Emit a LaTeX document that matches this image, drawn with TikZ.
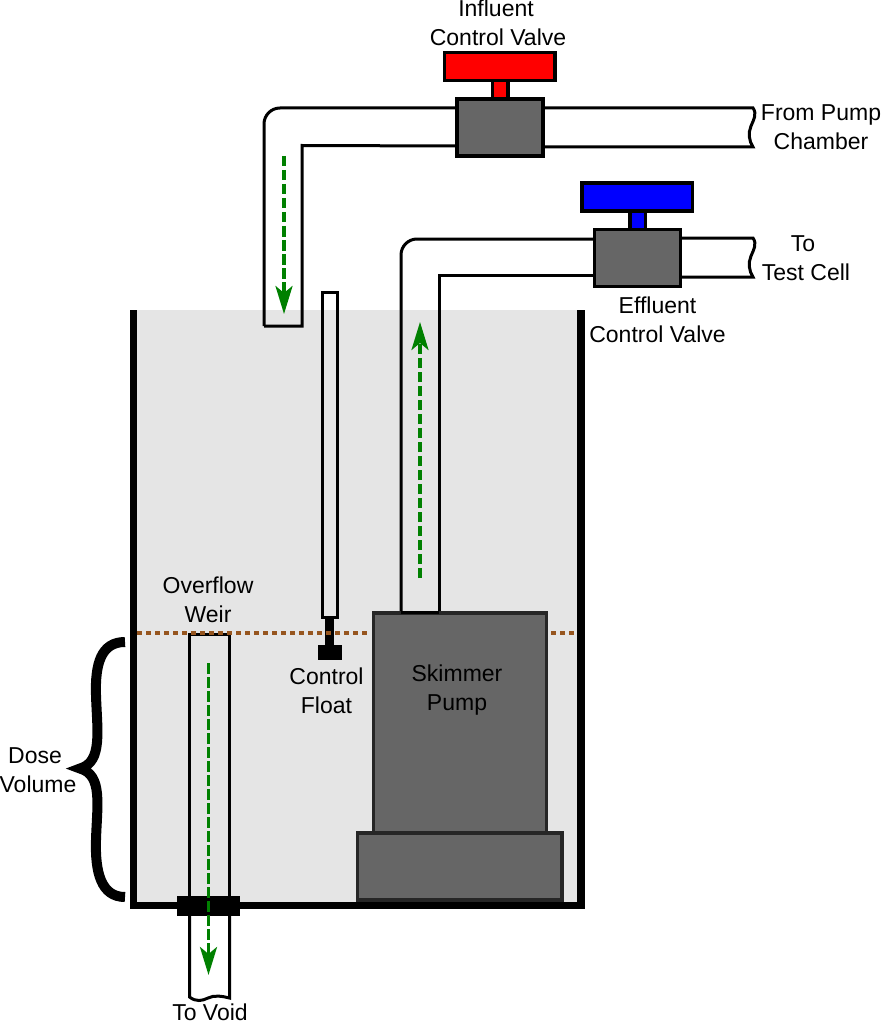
\documentclass[tikz,border=0pt]{standalone}
\usepackage{fontspec}
\setmainfont{Liberation Sans}
\usetikzlibrary{arrows.meta,calc,positioning}
\definecolor{waterg}{RGB}{229,229,229}
\definecolor{bodygrey}{RGB}{102,102,102}
\definecolor{levelbrown}{RGB}{150,85,30}
\definecolor{flowgreen}{RGB}{0,128,0}
\tikzset{
  pipe/.style={black,line width=3pt},
  wall/.style={black,line width=7.5pt},
  body/.style={draw=black,line width=3.5pt,fill=bodygrey,inner sep=0pt},
  pumpbody/.style={draw=black!85,line width=3.5pt,fill=bodygrey,inner sep=0pt},
  flow/.style={draw=flowgreen,line width=3.5pt,dash pattern=on 10.5pt off 3.5pt,
               -{Stealth[length=28pt,width=17pt,inset=7pt,fill=flowgreen]}},
  lab/.style={font=\fontsize{23}{29}\selectfont,align=center,text=black,inner sep=0pt},
  level/.style={draw=levelbrown,line width=4pt,dash pattern=on 4.5pt off 4.5pt},
}
\begin{document}
\begin{tikzpicture}[x=1pt,y=-1pt]
  \path[use as bounding box] (0,0) rectangle (880,1024);
  % tank
  \fill[waterg] (133,310) rectangle (581,905);
  \draw[wall,miter limit=10] (133.5,310) -- (133.5,905.5) -- (581,905.5) -- (581,310);

  % pipes
  \draw[pipe,rounded corners=16pt] (264,326) -- (264,108) -- (457,108);
  \draw[pipe] (264,326) -- (302,326) -- (302,145.5) -- (457,146);
  \draw[pipe] (543,108) -- (753,108) .. controls (757,114) and (754,119) .. (751,126)
    .. controls (748,133) and (749,141) .. (753,147) -- (543,147);
  \draw[pipe,rounded corners=16pt] (401,612) -- (401,239) -- (596,239);
  \draw[pipe] (439,612) -- (439,275.5) -- (596,275.5);
  \draw[pipe] (681,238) -- (753,238) .. controls (757,244) and (754,249) .. (751,256)
    .. controls (748,263) and (749,271) .. (753,277) -- (681,277);

  % valves
  \foreach \x/\y/\col/\nm in {500/127.5/red/influent,637.7/257.8/blue/effluent}{
    \node[body,fill=\col,minimum width=15.5pt,minimum height=24pt] (\nm stem) at (\x,\y-38) {};
    \node[body,fill=\col,minimum width=110.5pt,minimum height=28pt] (\nm handle) at (\x-0.5,\y-61) {};
    \node[body,minimum width=86pt,minimum height=57pt] (\nm body) at (\x,\y) {};
  }

  % float
  \draw[pipe] (322,292) rectangle (337,617);
  \fill[black] (325,617) rectangle (334,650);
  \fill[black] (318,645) rectangle (342,660);

  % weir
  \draw[pipe,fill=white] (189.5,910) -- (189.5,997) .. controls (196,1002) and (202,1001) .. (208,998)
    .. controls (214,995) and (222,996) .. (229.5,998) -- (229.5,910);
  \draw[pipe] (189.5,900) -- (189.5,634) -- (229.5,634) -- (229.5,900);
  \fill[black] (177,896) rectangle (240,916);

  % pump
  \node[pumpbody,minimum width=173pt,minimum height=220pt] (pump) at (460,723) {};
  \node[pumpbody,minimum width=204.5pt,minimum height=67pt] (pumpbase) at (459.7,866.5) {};
  \draw[pipe] (401,612.5) -- (439,612.5);

  % water level
  \draw[level] (137,633) -- (371,633);
  \draw[level] (551,633) -- (578,633);

  % flow arrows
  \draw[flow] (284,156) -- (284,314);
  \draw[flow] (420,578) -- (420,322);
  \draw[flow] (208.5,663) -- (208.5,975);

  % brace
  \draw[black,line width=10pt] (125,642) .. controls (101,642) and (95,664) .. (96,695)
    .. controls (97,730) and (103,762) .. (80,768.5)
    .. controls (103,775) and (97,805) .. (96,840)
    .. controls (95,872) and (101,897) .. (125,897);

  % labels
  \node[lab] (lbinfluent) at (498,23) {Influent\hspace*{4pt}\\Control Valve};
  \node[lab] (lbpumpchamber) at (821,127.5) {From Pump\\Chamber};
  \node[lab] (lbtestcell) at (806,258) {To\hspace*{6pt}\\Test Cell};
  \node[lab] (lbeffluent) at (657.5,319.5) {Effluent\\Control Valve};
  \node[lab] (lbweir) at (208,599.5) {Overflow\\Weir};
  \node[lab] (lbfloat) at (326.5,690.5) {Control\\Float};
  \node[lab] (lbpump) at (457,690.5) {Skimmer\\Pump};
  \node[lab] (lbdose) at (38,770) {Dose\hspace*{6pt}\\Volume};
  \node[lab] (lbvoid) at (210,1012.5) {To Void};
\end{tikzpicture}
\end{document}
